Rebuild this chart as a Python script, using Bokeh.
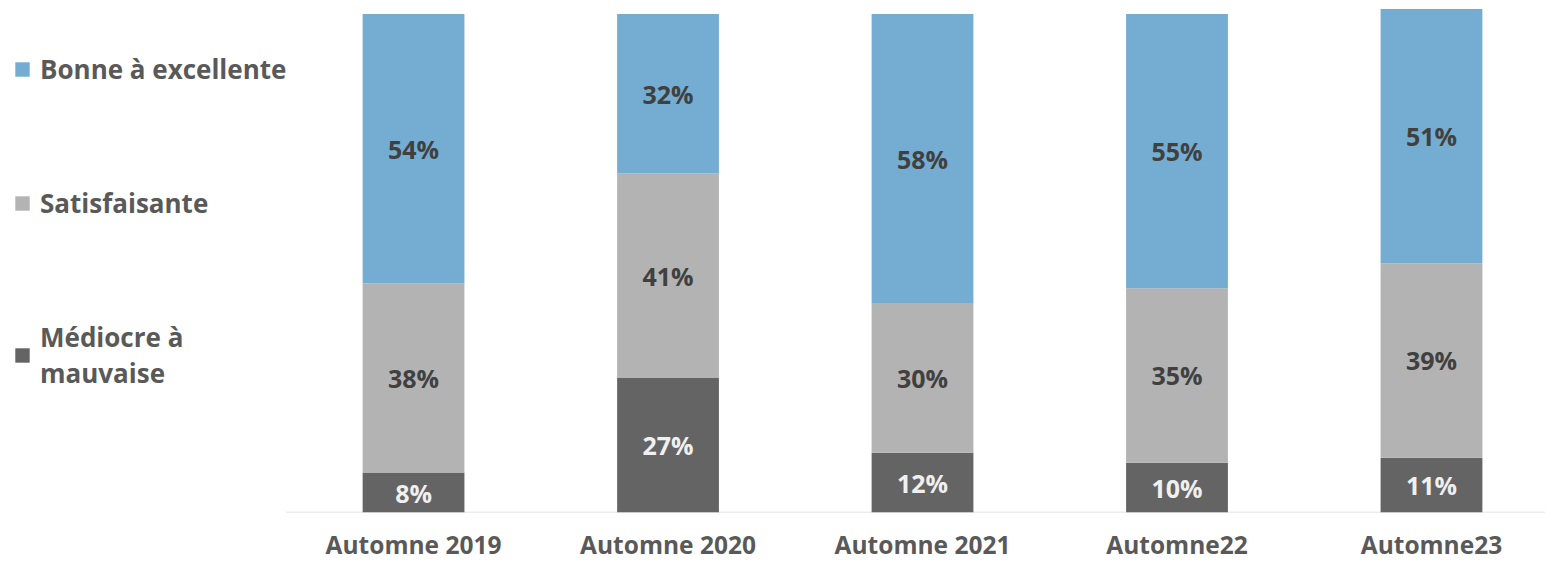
from bokeh.plotting import figure
from bokeh.models import ColumnDataSource, Range1d, Legend, LegendItem, LabelSet, FixedTicker
from bokeh.core.properties import value
from bokeh.embed import file_html
from bokeh.resources import INLINE

categories = ["Automne 2019", "Automne 2020", "Automne 2021", "Automne22", "Automne23"]
mediocre = [8, 27, 12, 10, 11]
satisf = [38, 41, 30, 35, 39]
bonne = [54, 32, 58, 55, 51]
series_names = ["Bonne à excellente", "Satisfaisante", "Médiocre à\nmauvaise"]
colors = {"bonne": "#74ADD1", "satisf": "#B3B3B3", "mediocre": "#646464"}

xs = list(range(len(categories)))
src = ColumnDataSource(dict(x=xs, mediocre=mediocre, satisf=satisf, bonne=bonne))

X_START, X_END = -1.623, 4.448
p = figure(width=1545, height=563, output_backend="svg", toolbar_location=None,
           x_range=Range1d(X_START, X_END), y_range=Range1d(0, 102.7),
           y_axis_location=None, min_border_left=0, min_border_right=0,
           min_border_top=0, min_border_bottom=51)
p.outline_line_color = None
p.xgrid.visible = False
p.ygrid.visible = False

# baseline of the category axis (starts half a category before the first bar)
p.segment(x0=[xs[0] - 0.5], y0=[0], x1=[X_END], y1=[0], line_color="#D9D9D9", line_width=1.5)

rs = p.vbar_stack(["mediocre", "satisf", "bonne"], x="x", width=0.4, source=src,
                  color=[colors["mediocre"], colors["satisf"], colors["bonne"]], line_color=None)

lab = dict(x=[], y=[], t=[], c=[])
for i in xs:
    b0 = 0
    for vals, col in ((mediocre, "#F0F0F0"), (satisf, "#404040"), (bonne, "#404040")):
        v = vals[i]
        lab["x"].append(i)
        lab["y"].append(b0 + v / 2)
        lab["t"].append(f"{v}%")
        lab["c"].append(col)
        b0 += v
lsrc = ColumnDataSource(lab)
p.add_layout(LabelSet(x="x", y="y", text="t", source=lsrc, text_color="c",
                      text_align="center", text_baseline="middle",
                      text_font=value("Open Sans"), text_font_style="bold",
                      text_font_size="25px"))

ax = p.xaxis[0]
ax.ticker = FixedTicker(ticks=xs)
ax.major_label_overrides = {i: c for i, c in zip(xs, categories)}
ax.axis_line_color = None
ax.major_tick_line_color = None
ax.minor_tick_line_color = None
ax.major_label_standoff = 9
ax.major_label_text_font = "Open Sans"
ax.major_label_text_font_style = "bold"
ax.major_label_text_font_size = "24.5px"
ax.major_label_text_color = "#595959"

legend = Legend(items=[LegendItem(label=series_names[0], renderers=[rs[2]]),
                       LegendItem(label=series_names[1], renderers=[rs[1]]),
                       LegendItem(label=series_names[2], renderers=[rs[0]])],
                location=(13, 121), orientation="vertical",
                glyph_width=18, glyph_height=18, label_standoff=9,
                label_text_font="Open Sans", label_text_font_style="bold",
                label_text_font_size="26px", label_text_color="#595959",
                spacing=98, padding=0, margin=0,
                border_line_color=None, background_fill_alpha=0)
p.add_layout(legend, "center")

open("out.html", "w").write(file_html(p, INLINE))
